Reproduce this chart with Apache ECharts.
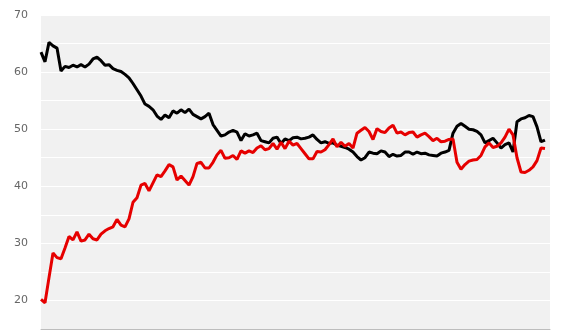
<!DOCTYPE html>
<html><head><meta charset="utf-8">
<script src="https://cdn.jsdelivr.net/npm/echarts@6/dist/echarts.min.js"></script>
<style>html,body{margin:0;padding:0;background:#fff}#c{width:580px;height:330px}</style>
</head><body><div id="c"></div>
<script>
const blackValues = [63.5,61.8,65.2,64.6,64.2,60.2,61.0,60.8,61.2,60.9,61.3,60.9,61.4,62.3,62.6,62.0,61.2,61.3,60.6,60.3,
60.1,59.6,59.0,58.0,56.9,55.8,54.4,54.0,53.4,52.3,51.7,52.5,52.0,53.2,52.8,53.4,52.9,53.5,52.6,52.2,
51.8,52.2,52.8,50.8,49.8,48.8,49.0,49.5,49.8,49.5,48.0,49.2,48.8,49.0,49.3,48.0,47.8,47.6,48.4,48.6,
47.5,48.3,48.0,48.5,48.6,48.3,48.4,48.6,49.0,48.2,47.6,47.8,47.5,47.6,47.2,47.0,46.8,46.5,46.0,45.2,
44.6,45.0,46.0,45.8,45.7,46.2,46.0,45.2,45.6,45.3,45.4,46.0,46.0,45.6,46.0,45.7,45.8,45.5,45.4,45.3,
45.8,46.0,46.3,49.3,50.5,51.0,50.5,50.0,49.9,49.6,49.0,47.6,48.0,48.4,47.6,46.7,47.3,47.6,46.0,51.3,
51.8,52.0,52.4,52.2,50.4,47.8,48.1];
const redValues = [20.2,19.6,24.0,28.3,27.5,27.3,29.2,31.2,30.6,32.0,30.4,30.6,31.6,30.8,30.6,31.6,32.2,32.6,32.9,34.2,
33.2,32.9,34.3,37.2,38.0,40.2,40.5,39.2,40.6,42.0,41.7,42.7,43.8,43.4,41.1,41.8,41.0,40.2,41.7,44.0,
44.2,43.2,43.2,44.2,45.5,46.3,44.9,45.0,45.4,44.7,46.2,45.8,46.2,45.9,46.7,47.1,46.4,46.6,47.5,46.5,
47.7,46.6,47.9,47.2,47.5,46.6,45.7,44.8,44.8,46.1,46.0,46.4,47.3,48.3,46.9,47.7,47.0,47.5,46.7,49.3,
49.8,50.3,49.6,48.2,50.1,49.6,49.4,50.2,50.7,49.3,49.5,49.0,49.4,49.5,48.6,49.0,49.3,48.7,48.0,48.4,
47.8,47.9,48.2,48.3,44.2,43.0,43.8,44.4,44.6,44.7,45.4,46.9,47.6,46.8,47.0,47.6,48.6,50.0,49.0,45.0,
42.5,42.4,42.8,43.4,44.5,46.7,46.6];
const yTickLabels = [20,30,40,50,60,70];

const chart = echarts.init(document.getElementById('c'), null, {renderer:'canvas'});
const toPairs = arr => arr.map((v,i)=>[i,v]);
chart.setOption({
  animation:false,
  backgroundColor:'#fff',
  grid:{left:41,right:30,top:15,bottom:1,show:true,backgroundColor:'#f1f1f1',borderWidth:0,borderColor:'transparent'},
  xAxis:{type:'value',min:0,max:127.25,
    axisLine:{show:true,lineStyle:{color:'#bdbdbd',width:1}},
    axisTick:{show:false},axisLabel:{show:false},splitLine:{show:false}},
  yAxis:{type:'value',min:15,max:70,interval:5,
    axisLine:{show:false},axisTick:{show:false},
    splitArea:{show:true,areaStyle:{color:['#f1f1f1','#f1f1f1']}},
    splitLine:{show:true,lineStyle:{color:'#ffffff',width:1}},
    axisLabel:{margin:13,color:'#666',fontSize:11,fontFamily:'DejaVu Sans',
      formatter:v=>yTickLabels.includes(v)?String(v):''}},
  series:[
    {type:'line',data:toPairs(blackValues),showSymbol:false,lineStyle:{color:'#000',width:3},itemStyle:{color:'#000'}},
    {type:'line',data:toPairs(redValues),showSymbol:false,lineStyle:{color:'#e60000',width:3},itemStyle:{color:'#e60000'}}
  ]
});
</script></body></html>
